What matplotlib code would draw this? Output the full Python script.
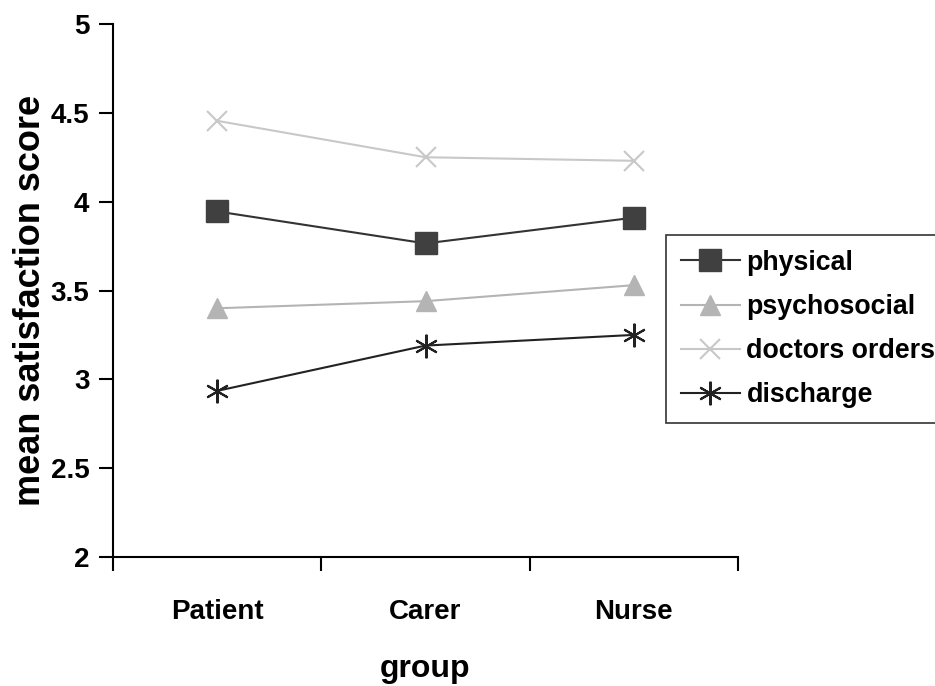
import matplotlib.pyplot as plt
import numpy as np

plt.rcParams['font.family'] = ['Liberation Sans', 'DejaVu Sans']
plt.rcParams['font.weight'] = 'bold'

groups = ['Patient', 'Carer', 'Nurse']
physical = [3.945, 3.765, 3.91]
psychosocial = [3.40, 3.44, 3.53]
doctors_orders = [4.455, 4.25, 4.23]
discharge = [2.935, 3.19, 3.25]

x = np.arange(len(groups))

fig = plt.figure(figsize=(9.35, 6.86), dpi=100)
ax = fig.add_axes([113 / 935, 1 - 557 / 686, 625 / 935, 533 / 686])

ax.plot(x, physical, color='#333333', lw=1.5, marker='s', ms=16.5,
        mfc='#404040', mec='#404040', label='physical')
ax.plot(x, psychosocial, color='#b4b4b4', lw=1.5, marker='^', ms=14,
        mfc='#b4b4b4', mec='#b4b4b4', label='psychosocial')
ax.plot(x, doctors_orders, color='#c8c8c8', lw=1.5, marker='x', ms=15,
        mew=1.5, mec='#c8c8c8', label='doctors orders')
ax.plot(x, discharge, color='#222222', lw=1.5, marker=(6, 2, 0), ms=17,
        mew=1.5, mec='#222222', label='discharge')

ax.set_xlim(-0.5, 2.5)
ax.set_ylim(2, 5)
ax.set_yticks([2, 2.5, 3, 3.5, 4, 4.5, 5])
ax.set_yticklabels(['2', '2.5', '3', '3.5', '4', '4.5', '5'])
ax.set_xticks([-0.5, 0.5, 1.5, 2.5])
ax.set_xticklabels([])
ax.set_xticks(x, minor=True)
ax.set_xticklabels(groups, minor=True)
ax.tick_params(axis='x', which='minor', length=0, pad=30, labelsize=20)
ax.tick_params(axis='x', which='major', length=10, width=1.5, direction='out')
ax.tick_params(axis='y', length=10, width=1.5, direction='out', pad=7, labelsize=20)

for side in ['top', 'right']:
    ax.spines[side].set_visible(False)
for side in ['left', 'bottom']:
    ax.spines[side].set_linewidth(1.5)

# axis titles placed in figure pixels
fig.text(425 / 935, 1 - 677 / 686, 'group', fontsize=23, fontweight='bold',
         ha='center', va='baseline')
fig.text(31 / 935, 1 - 300 / 686, 'mean satisfaction score', fontsize=26,
         fontweight='bold', rotation=90, ha='center', va='center')

leg = ax.legend(loc='upper left', bbox_to_anchor=(666 / 935, 1 - 235 / 686),
                bbox_transform=fig.transFigure, frameon=True, fancybox=False,
                fontsize=19.3, handlelength=2.2, handletextpad=0.25,
                labelspacing=0.68, borderpad=0.55, borderaxespad=0)
leg.get_frame().set_edgecolor('black')
leg.get_frame().set_linewidth(1.2)
for t in leg.get_texts():
    t.set_fontweight('bold')

fig.savefig('out.png', dpi=100)
